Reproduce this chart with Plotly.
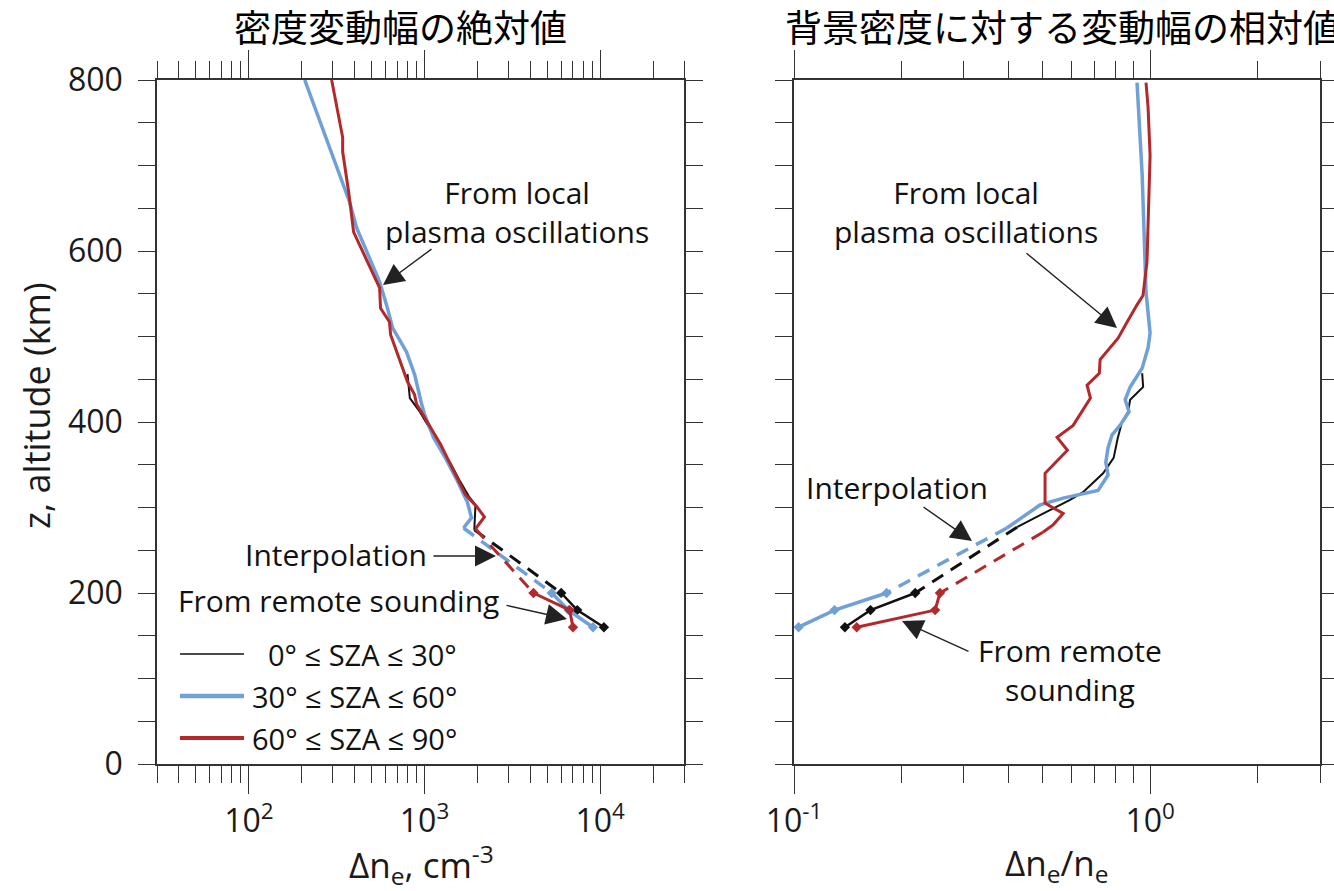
import math
import plotly.graph_objects as go

W, H = 1334, 891

# ---------------- data ----------------
# remote-sounding altitudes (km)
alt_remote = [200, 180, 160]

# Left panel: absolute amplitude Δne (cm^-3)
abs_black_alt = [456, 428, 412, 385, 358, 350, 330, 312, 303, 274]
abs_black_val = [800, 825, 940, 1130, 1350, 1420, 1600, 1800, 1950, 1920]
abs_black_remote = [6000, 7400, 10500]

abs_blue_alt = [800, 657, 627, 564, 537, 510, 482, 455, 422, 409, 382, 358, 331, 306, 288, 276]
abs_blue_val = [208, 375, 411, 555, 608, 658, 790, 880, 960, 1000, 1125, 1315, 1540, 1755, 1850, 1667]
abs_blue_remote = [5300, 6600, 9100]

abs_red_alt = [800, 733, 716, 669, 622, 557, 533, 517, 502, 447, 432, 421, 374, 351, 315, 300, 289, 275]
abs_red_val = [296, 342, 342, 370, 395, 555, 562, 632, 641, 800, 877, 901, 1233, 1406, 1710, 2000, 2193, 1950]
abs_red_remote = [4170, 6700, 7000]

# Right panel: relative amplitude Δne/ne
rel_black_alt = [457, 441, 426, 412, 400, 381, 358, 340, 318, 309, 291, 277]
rel_black_val = [0.95, 0.956, 0.879, 0.867, 0.834, 0.811, 0.79, 0.738, 0.648, 0.596, 0.491, 0.423]
rel_black_remote = [0.219, 0.164, 0.139]

rel_blue_alt = [797, 689, 552, 504, 487, 463, 441, 426, 412, 396, 385, 370, 353, 338, 320, 315, 311, 303, 276]
rel_blue_val = [0.919, 0.950, 0.974, 1.0, 0.987, 0.950, 0.879, 0.851, 0.873, 0.823, 0.782, 0.762,
                0.751, 0.762, 0.714, 0.636, 0.570, 0.491, 0.396]
rel_blue_remote = [0.182, 0.130, 0.103]

rel_red_alt = [797, 768, 712, 630, 587, 548, 537, 517, 498, 473, 457, 443, 428, 396, 382, 367,
               340, 305, 293, 280, 271]
rel_red_val = [0.974, 0.987, 1.0, 0.987, 0.98, 0.955, 0.919, 0.862, 0.813, 0.724, 0.72, 0.665,
               0.68, 0.608, 0.548, 0.586, 0.507, 0.507, 0.57, 0.535, 0.50]
rel_red_remote = [0.257, 0.249, 0.150]

legend_labels = ["0° ≤ SZA ≤ 30°", "30° ≤ SZA ≤ 60°", "60° ≤ SZA ≤ 90°"]

left_tickvals = [100, 1000, 10000]
left_ticktext = ["10<sup>2</sup>", "10<sup>3</sup>", "10<sup>4</sup>"]
left_minor = [30, 40, 50, 60, 70, 80, 90, 200, 300, 400, 500, 600, 700, 800, 900,
              2000, 3000, 4000, 5000, 6000, 7000, 8000, 9000, 20000, 30000]
right_tickvals = [0.1, 1]
right_ticktext = ["10<sup>-1</sup>", "10<sup>0</sup>"]
right_minor = [0.2, 0.3, 0.4, 0.5, 0.6, 0.7, 0.8, 0.9, 2, 3]

# ---------------- styles ----------------
BLACK = "#111111"
BLUE = "#6fa0d8"
RED = "#b3282b"
AX = "#333333"
FONT = "Open Sans"
CJK = "Noto Sans CJK JP"

series = [
    (BLACK, 2.0, 3.0,
     abs_black_alt, abs_black_val, abs_black_remote,
     rel_black_alt, rel_black_val, rel_black_remote),
    (BLUE, 3.5, 3.5,
     abs_blue_alt, abs_blue_val, abs_blue_remote,
     rel_blue_alt, rel_blue_val, rel_blue_remote),
    (RED, 3.0, 3.0,
     abs_red_alt, abs_red_val, abs_red_remote,
     rel_red_alt, rel_red_val, rel_red_remote),
]

fig = go.Figure()

def add_profile(xa, ya, color, lw, dlw, alts, vals, remote):
    fig.add_trace(go.Scatter(x=vals, y=alts, mode="lines", xaxis=xa, yaxis=ya,
                             line=dict(color=color, width=lw), showlegend=False,
                             hoverinfo="skip"))
    fig.add_trace(go.Scatter(x=[vals[-1], remote[0]], y=[alts[-1], alt_remote[0]],
                             mode="lines", xaxis=xa, yaxis=ya,
                             line=dict(color=color, width=dlw, dash="13px,9px"),
                             showlegend=False, hoverinfo="skip"))
    fig.add_trace(go.Scatter(x=remote, y=alt_remote, mode="lines+markers", xaxis=xa, yaxis=ya,
                             line=dict(color=color, width=lw if lw > 2.5 else 2.5),
                             marker=dict(symbol="diamond", size=8, color=color),
                             showlegend=False, hoverinfo="skip"))

for color, lw, dlw, a_alt, a_val, a_rem, r_alt, r_val, r_rem in series:
    add_profile("x", "y", color, lw, dlw, a_alt, a_val, a_rem)
    add_profile("x2", "y2", color, lw, dlw, r_alt, r_val, r_rem)

def px(x):
    return x / W

def py(y):
    return 1 - y / H

common_axis = dict(showline=True, linecolor=AX, linewidth=1.5, mirror="ticks",
                   ticks="outside", tickcolor=AX, tickwidth=1.3, showgrid=False,
                   zeroline=False, automargin=False,
                   tickfont=dict(family=FONT, size=32, color="#1a1a1a"))

y_dom = [py(764), py(80)]

fig.update_layout(
    width=W, height=H,
    margin=dict(l=0, r=0, t=0, b=0),
    paper_bgcolor="white", plot_bgcolor="white",
    xaxis=dict(domain=[px(157), px(684)], type="log",
               range=[math.log10(30), math.log10(30000)],
               tickvals=left_tickvals, ticktext=left_ticktext, ticklen=28,
               minor=dict(tickvals=left_minor, ticklen=17, ticks="outside",
                          tickcolor=AX, tickwidth=1.3),
               anchor="y", **common_axis),
    yaxis=dict(domain=y_dom, range=[0, 800], dtick=200, ticklen=17, ticklabelstandoff=9,
               minor=dict(dtick=50, ticklen=17, ticks="outside", tickcolor=AX, tickwidth=1.3),
               anchor="x", **common_axis),
    xaxis2=dict(domain=[px(794), px(1320)], type="log",
                range=[-1, math.log10(3)],
                tickvals=right_tickvals, ticktext=right_ticktext, ticklen=28,
                minor=dict(tickvals=right_minor, ticklen=17, ticks="outside",
                           tickcolor=AX, tickwidth=1.3),
                anchor="y2", **common_axis),
    yaxis2=dict(domain=y_dom, range=[0, 800], dtick=200, ticklen=17, showticklabels=False,
                minor=dict(dtick=50, ticklen=17, ticks="outside", tickcolor=AX, tickwidth=1.3),
                anchor="x2", **common_axis),
)

ann = []

def label(text, x, y, font, xanchor="center", yanchor="middle", **kw):
    ann.append(dict(text=text, x=px(x), y=py(y), xref="paper", yref="paper",
                    showarrow=False, font=font, xanchor=xanchor, yanchor=yanchor, **kw))

# titles
TITLE = dict(family=CJK, size=37, color="black")
label("密度変動幅の絶対値", 400, 26, TITLE)
label("背景密度に対する変動幅の相対値", 783, 26, TITLE, xanchor="left")
# axis titles
AXT = dict(family=FONT, size=35, color="#1a1a1a")
label("Δn<sub>e</sub>, cm<sup>-3</sup>", 421, 864, AXT)
label("Δn<sub>e</sub>/n<sub>e</sub>", 1057, 864, AXT)
label("z, altitude (km)", 37, 406, dict(family=FONT, size=36, color="#1a1a1a"), textangle=-90)

TXT = dict(family=FONT, size=30, color="#111111")
label("From local<br>plasma oscillations", 517, 212, TXT, align="center")
label("Interpolation", 429, 554, TXT, xanchor="right")
label("From remote sounding", 501, 600, TXT, xanchor="right")
label("From local<br>plasma oscillations", 966, 212, TXT, align="center")
label("Interpolation", 897, 488, TXT)
label("From remote<br>sounding", 1070, 670, TXT, align="center")

# arrows: (tail_x, tail_y, head_x, head_y) in pixels
arrows = [
    (433, 248, 383, 285),
    (432, 556, 496, 556),
    (505, 605, 567, 619),
    (1025, 252, 1117, 328),
    (922, 506, 972, 541),
    (970, 652, 902, 621),
]
for tx, ty, hx, hy in arrows:
    ann.append(dict(text="", x=px(hx), y=py(hy), xref="paper", yref="paper",
                    ax=tx - hx, ay=ty - hy, showarrow=True, arrowhead=2,
                    arrowsize=3.0, arrowwidth=1.4, arrowcolor="#222222"))

# legend
leg_y = [654, 696, 738]
leg_w = [1.6, 4.5, 4.0]
leg_c = [BLACK, BLUE, RED]
shapes = []
LEG = dict(family=FONT, size=29, color="#111111")
for lab, yy, lw, c in zip(legend_labels, leg_y, leg_w, leg_c):
    shapes.append(dict(type="line", xref="paper", yref="paper", x0=px(180), x1=px(244),
                       y0=py(yy), y1=py(yy), line=dict(color=c, width=lw)))
    label(lab, 459, yy, LEG, xanchor="right")

fig.update_layout(annotations=ann, shapes=shapes)
fig.write_html("out.html")
